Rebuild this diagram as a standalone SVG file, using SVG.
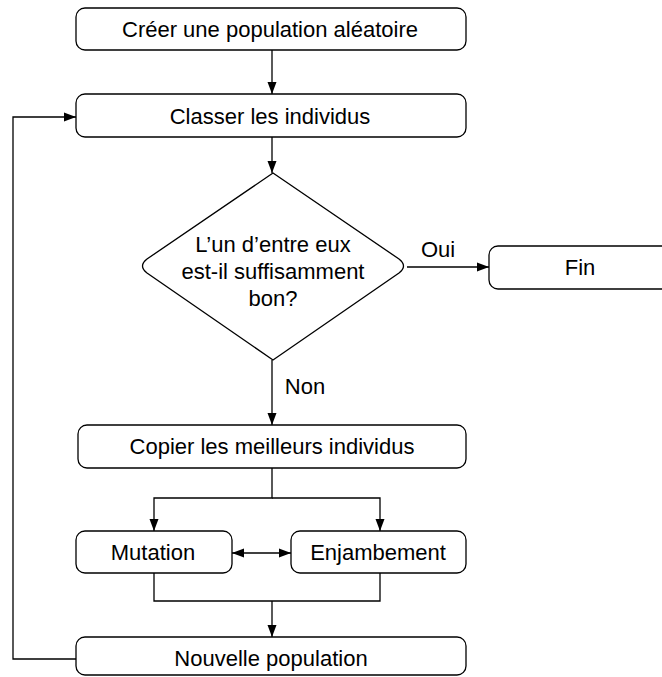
<svg xmlns="http://www.w3.org/2000/svg" width="662" height="677" viewBox="0 0 662 677">
<style>
.box{fill:#fff;stroke:#000;stroke-width:1.3}
.t{font-family:"Liberation Sans",Arial,Helvetica,sans-serif;font-size:22px;fill:#000;text-anchor:middle}
.c{fill:none;stroke:#000;stroke-width:1.3}
</style>
<defs>
<marker id="ah" viewBox="0 0 12 10" refX="12" refY="5" markerWidth="12" markerHeight="10" markerUnits="userSpaceOnUse" orient="auto-start-reverse">
<path d="M0,0.5 L12,5 L0,9.5 z" fill="#000"/>
</marker>
</defs>
<g id="connectors">
<line class="c" x1="272" y1="50" x2="272" y2="94" marker-end="url(#ah)"/>
<line class="c" x1="272" y1="137" x2="272" y2="173" marker-end="url(#ah)"/>
<line class="c" x1="407" y1="267" x2="489" y2="267" marker-end="url(#ah)"/>
<line class="c" x1="272" y1="360" x2="272" y2="425" marker-end="url(#ah)"/>
<polyline class="c" points="272,468 272,498 154,498 154,531" marker-end="url(#ah)"/>
<polyline class="c" points="272,498 380,498 380,531" marker-end="url(#ah)"/>
<line class="c" x1="232" y1="553" x2="291" y2="553" marker-start="url(#ah)" marker-end="url(#ah)"/>
<polyline class="c" points="154,573 154,601 380,601 380,573"/>
<line class="c" x1="272" y1="601" x2="272" y2="637" marker-end="url(#ah)"/>
<polyline class="c" points="76,659 13,659 13,117 76,117" marker-end="url(#ah)"/>
<text class="t" x="438" y="257">Oui</text>
<text class="t" x="305" y="394">Non</text>
</g>
<g id="creer">
<rect class="box" x="76" y="8" width="390" height="42" rx="9"/>
<text class="t" x="270" y="37">Créer une population aléatoire</text>
</g>
<g id="classer">
<rect class="box" x="76" y="94" width="390" height="43" rx="9"/>
<text class="t" x="270" y="124">Classer les individus</text>
</g>
<g id="decision">
<path class="box" d="M273,173 L399,259 Q408,266 399,273 L273,360 L147,273 Q138,266 147,259 Z"/>
<text class="t" x="273" y="252">L’un d’entre eux</text>
<text class="t" x="273" y="279">est-il suffisamment</text>
<text class="t" x="273" y="306">bon?</text>
</g>
<g id="fin">
<rect class="box" x="489" y="246" width="200" height="43" rx="9"/>
<text class="t" x="580" y="275">Fin</text>
</g>
<g id="copier">
<rect class="box" x="78" y="425" width="388" height="43" rx="9"/>
<text class="t" x="272" y="454">Copier les meilleurs individus</text>
</g>
<g id="mutation">
<rect class="box" x="76" y="531" width="156" height="42" rx="9"/>
<text class="t" x="153" y="560">Mutation</text>
</g>
<g id="enjambement">
<rect class="box" x="291" y="531" width="175" height="42" rx="9"/>
<text class="t" x="378" y="560">Enjambement</text>
</g>
<g id="nouvelle">
<rect class="box" x="76" y="637" width="390" height="38" rx="9"/>
<text class="t" x="271" y="666">Nouvelle population</text>
</g>
</svg>
